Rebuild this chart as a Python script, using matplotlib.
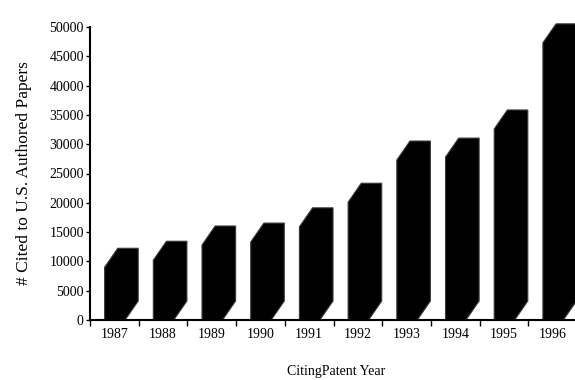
import matplotlib.pyplot as plt
from matplotlib.patches import Polygon

# Citations to U.S.-authored papers by citing patent year
years = ['1987', '1988', '1989', '1990', '1991', '1992', '1993', '1994', '1995', '1996']
cited = [9000, 10200, 12800, 13300, 15900, 20100, 27300, 27800, 32600, 47300]
yticks = [0, 5000, 10000, 15000, 20000, 25000, 30000, 35000, 40000, 45000, 50000]

plt.rcParams['font.family'] = 'Liberation Serif'

fig = plt.figure(figsize=(5.75, 3.8), dpi=100)
ax = fig.add_axes([90/575, 60/380, 487/575, 293/380])

#3D-looking column: front face plus slanted top and right side
half_w = 0.2
front_w = 0.42
depth_x = 0.27
depth_y = 3240
for i, h in enumerate(cited):
    x0 = i - half_w
    x1 = x0 + front_w
    pts = [(x0, 0), (x0, h), (x0 + depth_x, h + depth_y),
           (x1 + depth_x, h + depth_y), (x1 + depth_x, depth_y), (x1, 0)]
    ax.add_patch(Polygon(pts, closed=True, facecolor='black',
                         edgecolor='#3a3a3a', linewidth=0.8, clip_on=False, zorder=2))

ax.set_xlim(-0.5, len(years) - 0.5)
ax.set_ylim(0, 50000)

ax.set_yticks(yticks)
ax.set_yticklabels([str(v) for v in yticks], fontsize=10)
ax.tick_params(axis='y', direction='out', length=3, width=1, pad=1.5)

# category labels in the middle, tick marks between categories
ax.set_xticks(range(len(years)))
ax.set_xticklabels(years, fontsize=10)
ax.set_xticks([i - 0.5 for i in range(len(years) + 1)], minor=True)
ax.tick_params(axis='x', which='major', length=0, pad=6)
ax.tick_params(axis='x', which='minor', direction='out', length=4, width=1)

for s in ['top', 'right']:
    ax.spines[s].set_visible(False)
ax.spines['left'].set_linewidth(1.5)
ax.spines['bottom'].set_linewidth(1.5)
ax.spines['bottom'].set_zorder(3)

fig.text(24/575, 1 - 173/380, '# Cited to U.S. Authored Papers', rotation=90,
         ha='center', va='center', fontsize=12.5)
fig.text(336/575, 1 - 372/380, 'CitingPatent Year', ha='center', va='center', fontsize=10)

fig.savefig('out.png', dpi=100)
